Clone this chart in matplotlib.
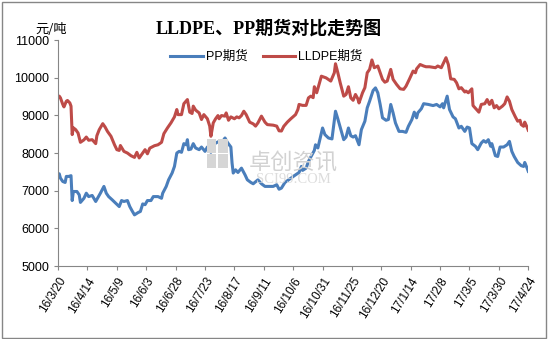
import numpy as np
import pandas as pd
import matplotlib
matplotlib.use("Agg")
import matplotlib.pyplot as plt
from matplotlib.patches import Rectangle

plt.rcParams['font.family'] = ['Liberation Sans', 'Noto Sans CJK SC', 'DejaVu Sans']

start = pd.Timestamp("2016-03-20")

# days after 2016-03-20 and price (元/吨)
pp_days = [0, 1, 2, 4, 6, 7, 9, 11, 12, 13, 16, 18, 19, 22, 24, 26, 29, 32, 34, 36,
           39, 41, 43, 46, 49, 52, 54, 56, 59, 61, 63, 65, 68, 70, 72, 74, 76, 79, 81, 85,
           88, 89, 92, 94, 97, 99, 101, 103, 105, 107, 109, 110, 111, 113, 115, 117, 120, 122, 125, 127,
           130, 132, 134, 137, 139, 142, 144, 147, 148, 149, 151, 153, 156, 159, 161, 164, 166, 170, 173, 176,
           178, 183, 186, 188, 190, 193, 197, 201, 205, 207, 208, 211, 213, 215, 218, 219, 221, 223, 225, 227,
           230, 233, 236, 238, 241, 243, 245, 247, 249, 251, 253, 256, 258, 261, 263, 265, 268, 270, 272, 274,
           276, 279, 281, 283, 285, 287, 290, 293, 296, 298, 301, 303, 305, 306, 309, 311, 315, 319, 322, 325,
           327, 328, 331, 333, 336, 338, 341, 343, 346, 348, 350, 352, 355, 357, 360, 362, 364, 366, 368, 369,
           372, 374, 376, 379, 382, 384, 386, 388, 391, 394, 396, 397, 399, 400]
pp_vals = [7420, 7450, 7335, 7245, 7220, 7380, 7380, 7400, 6740, 6980, 6980, 6890, 6690, 6800, 6935, 6845, 6875, 6715, 6825, 6935,
           7115, 6935, 6845, 6760, 6670, 6580, 6740, 6715, 6740, 6580, 6465, 6360, 6420, 6450, 6650, 6630, 6740, 6740, 6845, 6845,
           6800, 6935, 7115, 7290, 7470, 7645, 8000, 8045, 8020, 8250, 8220, 8355, 8090, 8105, 8250, 8135, 8090, 8160, 8045, 8160,
           8020, 8195, 8265, 8310, 8265, 8400, 8285, 8160, 7735, 7470, 7555, 7485, 7600, 7425, 7290, 7220, 7185, 7290, 7185, 7115,
           7115, 7115, 7160, 7040, 7070, 7220, 7310, 7400, 7485, 7645, 7540, 7600, 7780, 7895, 8070, 8220, 8135, 8400, 8665, 8490,
           8400, 8375, 9110, 8905, 8575, 8355, 8425, 8665, 8460, 8425, 8460, 8220, 8620, 8845, 9200, 9375, 9660, 9730, 9600, 9290,
           8935, 8870, 8890, 9290, 9065, 8800, 8575, 8575, 8550, 8710, 8890, 9085, 8935, 9065, 9175, 9310, 9290, 9260, 9290, 9225,
           9310, 9200, 9510, 9155, 8960, 8910, 8665, 8710, 8575, 8690, 8665, 8250, 8180, 8090, 8265, 8330, 8285, 8355, 8180, 8250,
           7930, 7910, 8160, 8160, 8220, 8310, 8045, 7910, 7750, 7665, 7645, 7750, 7600, 7515]

pe_days = [0, 1, 2, 4, 5, 7, 8, 10, 11, 12, 13, 15, 17, 19, 22, 24, 26, 29, 32, 33,
           35, 38, 40, 42, 45, 48, 50, 52, 53, 56, 59, 62, 65, 67, 69, 72, 74, 76, 78, 82,
           85, 88, 90, 93, 96, 99, 101, 102, 105, 107, 110, 112, 114, 115, 117, 120, 122, 124, 127, 129,
           130, 132, 134, 136, 137, 139, 142, 143, 145, 147, 150, 152, 154, 156, 158, 160, 163, 166, 168, 170,
           173, 176, 178, 183, 186, 188, 190, 192, 195, 198, 202, 204, 205, 208, 211, 213, 215, 217, 218, 220,
           222, 224, 228, 232, 235, 236, 238, 240, 243, 245, 247, 249, 251, 253, 255, 256, 259, 261, 263, 265,
           267, 269, 272, 274, 276, 278, 280, 283, 285, 288, 291, 294, 296, 299, 302, 304, 305, 308, 311, 313,
           316, 321, 323, 326, 328, 330, 332, 334, 337, 339, 341, 343, 346, 347, 349, 352, 353, 356, 358, 360,
           363, 365, 367, 369, 371, 373, 375, 378, 380, 382, 384, 386, 389, 391, 393, 394, 396, 397, 399, 400]
pe_vals = [9480, 9510, 9465, 9290, 9225, 9375, 9395, 9330, 9245, 8490, 8670, 8620, 8530, 8285, 8350, 8425, 8340, 8355, 8250, 8460,
           8620, 8780, 8690, 8575, 8445, 8220, 8090, 8070, 8200, 8045, 8000, 7930, 7885, 8020, 7870, 8000, 8090, 7980, 8130, 8195,
           8220, 8285, 8515, 8665, 8800, 8960, 9155, 9020, 9020, 9310, 9420, 9085, 9050, 9245, 9140, 9065, 8890, 9020, 8910, 8715,
           8445, 8800, 8910, 8995, 8910, 8995, 8980, 9065, 8870, 8960, 8910, 8960, 8935, 8995, 9110, 9020, 8820, 8775, 8715, 8800,
           8980, 8820, 8755, 8740, 8715, 8590, 8585, 8710, 8820, 8910, 9020, 9155, 9290, 9265, 9265, 9465, 9510, 9470, 9760, 9600,
           9820, 10040, 9995, 9910, 10130, 10370, 10130, 9865, 9510, 9555, 9760, 9465, 9400, 9555, 9440, 9330, 9600, 9735, 10130, 10220,
           10470, 10265, 10310, 10130, 9955, 9880, 9910, 10220, 9955, 9820, 9705, 9690, 9775, 9970, 10175, 10130, 10235, 10350, 10310, 10290,
           10290, 10265, 10310, 10265, 10395, 10530, 10350, 9970, 9955, 9865, 9705, 9735, 9620, 9645, 9600, 9705, 9260, 9155, 9085, 9290,
           9310, 9420, 9290, 9400, 9200, 9260, 9175, 9245, 9310, 9490, 9375, 9155, 8960, 8845, 8870, 8755, 8710, 8820, 8685, 8605]

tick_labels = ["16/3/20", "16/4/14", "16/5/9", "16/6/3", "16/6/28", "16/7/23", "16/8/17",
               "16/9/11", "16/10/6", "16/10/31", "16/11/25", "16/12/20", "17/1/14",
               "17/2/8", "17/3/5", "17/3/30", "17/4/24"]

pp_dates = start + pd.to_timedelta(pp_days, unit="D")
pe_dates = start + pd.to_timedelta(pe_days, unit="D")
tick_dates = pd.date_range(start, periods=len(tick_labels), freq="25D")

fig = plt.figure(figsize=(5.48, 3.39), dpi=100)
ax = fig.add_axes([0.106, 0.215, 0.858, 0.667])

# watermark (behind the lines)
for (x0, y0) in [(0.377, 0.505), (0.398, 0.505), (0.377, 0.55), (0.398, 0.55)]:
    fig.patches.append(Rectangle((x0, y0), 0.018, 0.04, transform=fig.transFigure,
                                 facecolor="#d6d6d6", edgecolor="none", zorder=0))
fig.text(0.535, 0.52, "卓创资讯", ha="center", va="center", fontsize=16, color="#d2d2d2",
         family=["Noto Sans CJK SC"], zorder=0)
fig.text(0.535, 0.47, "SCI99.COM", ha="center", va="center", fontsize=10.5, color="#dcdcdc",
         family=["Liberation Serif"], zorder=0)
ax.patch.set_alpha(0)

ax.plot(pp_dates, pp_vals, color="#4A7EBB", lw=2.2, label="PP期货", solid_joinstyle="round")
ax.plot(pe_dates, pe_vals, color="#BE4B48", lw=2.2, label="LLDPE期货", solid_joinstyle="round")

ax.set_xlim(tick_dates[0], tick_dates[-1])
ax.set_ylim(5000, 11000)
ax.set_yticks(np.arange(5000, 11001, 1000))
ax.set_xticks(tick_dates)
ax.set_xticklabels(tick_labels, rotation=58, ha="right", rotation_mode="anchor")
ax.tick_params(axis="both", labelsize=8.5, colors="#868686", labelcolor="black", length=3)
ax.tick_params(axis="y", labelsize=9)
for s in ["top", "right"]:
    ax.spines[s].set_visible(False)
for s in ["left", "bottom"]:
    ax.spines[s].set_color("#868686")

ax.legend(loc="center", bbox_to_anchor=(0.443, 0.925), ncol=2, frameon=False,
          fontsize=9, handlelength=2.6, columnspacing=1.2, handletextpad=0.25)

fig.text(0.49, 0.915, "LLDPE、PP期货对比走势图", ha="center", va="center", fontsize=13,
         fontweight="bold", family=["Liberation Serif", "Noto Sans CJK SC"])
fig.text(0.064, 0.912, "元/吨", ha="left", va="center", fontsize=9.5,
         family=["Noto Sans CJK SC", "DejaVu Sans"])

fig.patches.append(Rectangle((0.003, 0.004), 0.994, 0.99, transform=fig.transFigure,
                             fill=False, edgecolor="#868686", lw=1))

fig.savefig("out.png", dpi=100)
